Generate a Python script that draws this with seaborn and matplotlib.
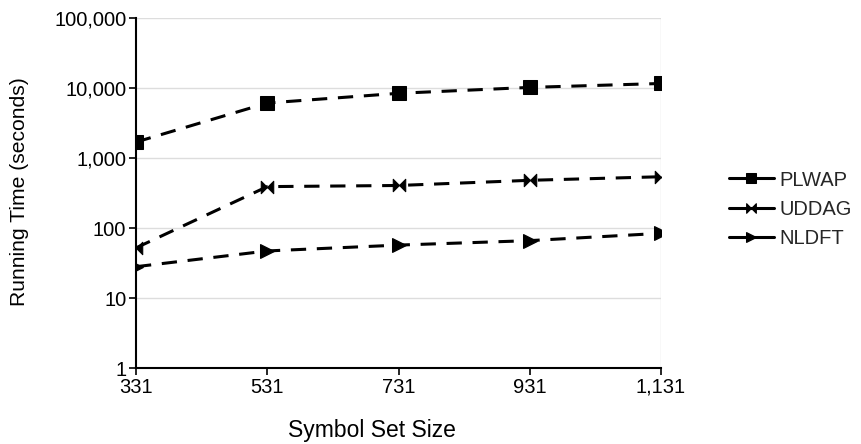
import matplotlib
matplotlib.use("Agg")
import matplotlib.pyplot as plt
import seaborn as sns
import pandas as pd
import numpy as np
from matplotlib.path import Path
from matplotlib.ticker import FixedLocator, FuncFormatter, NullLocator

sizes = [331, 531, 731, 931, 1131]
size_labels = ["331", "531", "731", "931", "1,131"]
plwap = [1690, 6100, 8400, 10200, 11600]
uddag = [52, 390, 405, 480, 540]
nldft = [28, 47, 57, 66, 84]
series_names = ["PLWAP", "UDDAG", "NLDFT"]

sns.set_theme(style="white")
plt.rcParams['font.family'] = ['Liberation Sans', 'DejaVu Sans']

bowtie = Path([(-1, -1), (0, 0), (-1, 1), (-1, -1), (1, 1), (0, 0), (1, -1), (1, 1)],
              [Path.MOVETO, Path.LINETO, Path.LINETO, Path.CLOSEPOLY,
               Path.MOVETO, Path.LINETO, Path.LINETO, Path.CLOSEPOLY])

markers = {"PLWAP": ("s", 10), "UDDAG": (bowtie, 9), "NLDFT": (">", 10)}

df = pd.DataFrame({
    "x": sizes * 3,
    "y": plwap + uddag + nldft,
    "series": sum([[n] * len(sizes) for n in series_names], []),
})

FS = 14.5
fig = plt.figure(figsize=(8.62, 4.44), dpi=100)
ax = fig.add_axes([136/862, 76/444, (661-136)/862, (368-18)/444])

for name in series_names:
    sub = df[df.series == name]
    m, ms = markers[name]
    sns.lineplot(data=sub, x="x", y="y", ax=ax, color="black", lw=2.2,
                 linestyle=(0, (5, 3.5)), marker=m, markersize=ms,
                 markeredgecolor="black", markerfacecolor="black", label=name)

ax.set_yscale("log")
ax.set_ylim(1, 100000)
ax.set_xlim(331, 1131)
ax.yaxis.set_major_locator(FixedLocator([1, 10, 100, 1000, 10000, 100000]))
ax.yaxis.set_minor_locator(NullLocator())
ax.yaxis.set_major_formatter(FuncFormatter(lambda v, p: f"{int(round(v)):,}"))
ax.set_xticks(sizes)
ax.set_xticklabels(size_labels)
ax.grid(axis="y", color="#dddddd", lw=1)
ax.axvline(1131, color="#e0e0e0", lw=1, zorder=0)
for s in ["top", "right"]:
    ax.spines[s].set_visible(False)
for s in ["left", "bottom"]:
    ax.spines[s].set_color("black")
    ax.spines[s].set_linewidth(1.5)
ax.tick_params(axis="both", which="major", direction="out", length=5, width=1.2,
               color="black", labelsize=FS, labelcolor="black", left=True, bottom=True, pad=2)
ax.set_xlabel("Symbol Set Size", fontsize=16.5, color="black", va="baseline")
ax.xaxis.set_label_coords((372 - 136) / 525, -(437 - 368) / 350)
ax.set_ylabel("Running Time (seconds)", fontsize=15.2, color="black")
ax.yaxis.set_label_coords((29 - 136) / 525, (368 - 191.5) / 350)

leg = ax.legend(loc="center left", bbox_to_anchor=(1.13, 0.454), frameon=False,
                fontsize=FS, handlelength=2.2, handletextpad=0.3, labelspacing=0.5,
                borderaxespad=0, borderpad=0)
for line in leg.get_lines():
    line.set_linestyle("-")
    line.set_markersize(7)

fig.savefig("out.png", dpi=100, facecolor="white")
